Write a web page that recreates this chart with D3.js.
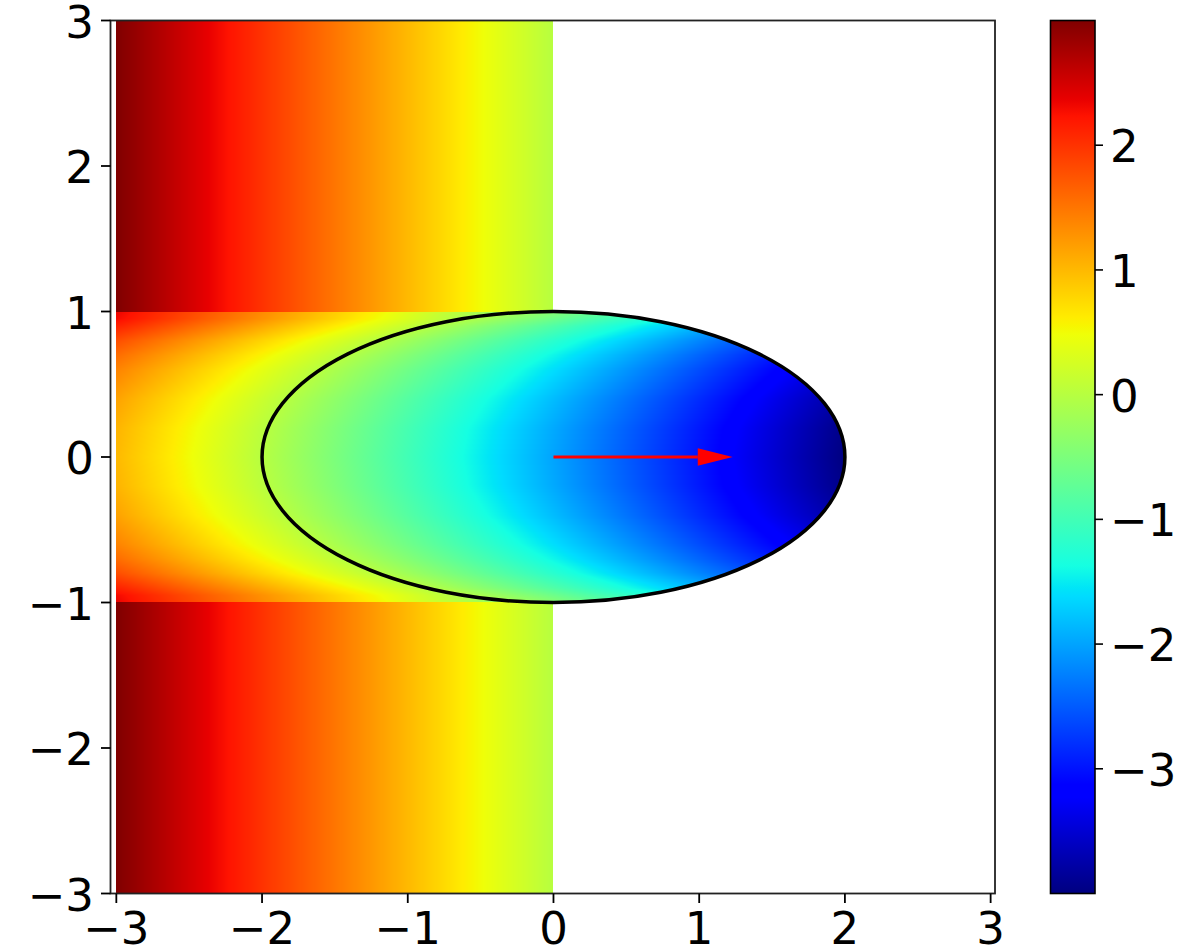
<!DOCTYPE html>
<html>
<head>
<meta charset="utf-8">
<script src="https://cdn.jsdelivr.net/npm/d3@7"></script>
<style>
  body { margin: 0; background: #fff; }
  svg { display: block; }
  text { font-family: "DejaVu Sans", sans-serif; font-size: 45px; fill: #000; }
</style>
</head>
<body>
<svg id="chart" width="1196" height="948"></svg>
<script>
// ---- data ----
const xTicks = [-3, -2, -1, 0, 1, 2, 3];
const yTicks = [-3, -2, -1, 0, 1, 2, 3];
const cbTicks = [-3, -2, -1, 0, 1, 2];
const cbDomain = [-4, 3];

// field above/below the strip (|y| > 1), sampled along x
const outerX = [-3, -2.5, -2, -1.5, -1, -0.5, 0];
const outerVals = [3, 2.5, 2, 1.5, 1, 0.5, 0];

// rows are |y| (field is mirrored about y = 0)
const rowY = [0, 0.2, 0.4, 0.6, 0.7, 0.8, 0.9, 0.95, 1];

// strip |y| < 1 left of x = 0, outside the ellipse
const stripX = [-3, -2.5, -2, -1.5, -1, -0.5, 0];
const stripVals = [
  [1.0, 0.5, 0.0, -0.5, -1.0, -1.5, -2.0],
  [1.04, 0.54, 0.04, -0.46, -0.96, -1.46, -1.96],
  [1.17, 0.67, 0.17, -0.33, -0.83, -1.33, -1.83],
  [1.4, 0.9, 0.4, -0.1, -0.6, -1.1, -1.6],
  [1.57, 1.07, 0.57, 0.07, -0.43, -0.93, -1.43],
  [1.8, 1.3, 0.8, 0.3, -0.2, -0.7, -1.2],
  [2.13, 1.63, 1.13, 0.63, 0.13, -0.37, -0.87],
  [2.3, 1.8, 1.3, 0.8, 0.3, -0.2, -0.7],
  [2.35, 1.85, 1.35, 0.85, 0.35, -0.15, -0.65]
];

// inside the ellipse
const ellX = [-2, -1.5, -1, -0.5, 0, 0.5, 1, 1.5, 2];
const ellVals = [
  [0, -0.5, -1, -1.5, -2, -2.5, -3, -3.5, -4],
  [0.04, -0.46, -0.96, -1.46, -1.96, -2.46, -2.96, -3.46, -3.96],
  [0.17, -0.33, -0.83, -1.33, -1.83, -2.33, -2.83, -3.33, -3.83],
  [0.4, -0.1, -0.6, -1.1, -1.6, -2.1, -2.6, -3.1, -3.6],
  [0.57, 0.07, -0.43, -0.93, -1.43, -1.93, -2.43, -2.93, -3.43],
  [0.8, 0.3, -0.2, -0.7, -1.2, -1.7, -2.2, -2.7, -3.2],
  [1.13, 0.63, 0.13, -0.37, -0.87, -1.37, -1.87, -2.37, -2.87],
  [1.38, 0.88, 0.38, -0.12, -0.62, -1.12, -1.62, -2.12, -2.62],
  [1.6, 1.1, 0.6, 0.1, -0.4, -0.9, -1.4, -1.9, -2.4]
];

const ellipse = { cx: 0, cy: 0, rx: 2, ry: 1 };
const arrow = { x0: 0, y0: 0, x1: 1.23, headLen: 0.24, headW: 0.12 };

// jet colormap segments
const jetR = [[0, 0], [0.35, 0], [0.66, 1], [0.89, 1], [1, 0.5]];
const jetG = [[0, 0], [0.125, 0], [0.375, 1], [0.64, 1], [0.91, 0], [1, 0]];
const jetB = [[0, 0.5], [0.11, 1], [0.34, 1], [0.65, 0], [1, 0]];

// ---- layout ----
const plot = { left: 110.5, right: 995, top: 20.5, bottom: 893.5 };
const cb = { left: 1050.5, right: 1095, top: 20.5, bottom: 893.5 };
const tickLen = 9.5;

const x = d3.scaleLinear().domain([-3.04, 3.03]).range([plot.left, plot.right]);
const y = d3.scaleLinear().domain([-3, 3]).range([plot.bottom, plot.top]);
const cbY = d3.scaleLinear().domain(cbDomain).range([cb.bottom, cb.top]);
const norm = d3.scaleLinear().domain(cbDomain).range([0, 1]).clamp(true);

const seg = pts => d3.scaleLinear().domain(pts.map(p => p[0])).range(pts.map(p => p[1])).clamp(true);
const jr = seg(jetR), jg = seg(jetG), jb = seg(jetB);
function jet(t) {
  return [jr(t) * 255, jg(t) * 255, jb(t) * 255];
}

function interp1(xs, v) {
  let i = Math.min(Math.max(d3.bisectRight(xs, v) - 1, 0), xs.length - 2);
  const t = (v - xs[i]) / (xs[i + 1] - xs[i]);
  return [i, t];
}
function bilinear(xs, grid, px, py) {
  const [i, tx] = interp1(xs, px);
  const [j, ty] = interp1(rowY, Math.abs(py));
  const a = grid[j][i] * (1 - tx) + grid[j][i + 1] * tx;
  const b = grid[j + 1][i] * (1 - tx) + grid[j + 1][i + 1] * tx;
  return a * (1 - ty) + b * ty;
}

function fieldAt(px, py) {
  const inside = ((px - ellipse.cx) / ellipse.rx) ** 2 + ((py - ellipse.cy) / ellipse.ry) ** 2 <= 1;
  if (inside) return bilinear(ellX, ellVals, px, py);
  if (px < outerX[0] || px > outerX[outerX.length - 1]) return null;
  if (Math.abs(py) >= 1) {
    const [i, t] = interp1(outerX, px);
    return outerVals[i] * (1 - t) + outerVals[i + 1] * t;
  }
  return bilinear(stripX, stripVals, px, py);
}

// ---- raster field ----
const x0 = Math.floor(plot.left), y0 = Math.floor(plot.top);
const w = Math.ceil(plot.right) - x0, h = Math.ceil(plot.bottom) - y0;
const canvas = document.createElement("canvas");
canvas.width = w; canvas.height = h;
const ctx = canvas.getContext("2d");
const img = ctx.createImageData(w, h);
for (let r = 0; r < h; r++) {
  const dy = y.invert(y0 + r + 0.5);
  for (let c = 0; c < w; c++) {
    const dx = x.invert(x0 + c + 0.5);
    const v = fieldAt(dx, dy);
    const k = (r * w + c) * 4;
    if (v === null) { img.data[k + 3] = 0; continue; }
    const [R, G, B] = jet(norm(v));
    img.data[k] = R; img.data[k + 1] = G; img.data[k + 2] = B; img.data[k + 3] = 255;
  }
}
ctx.putImageData(img, 0, 0);

const svg = d3.select("#chart");

svg.append("defs").append("clipPath").attr("id", "plotClip")
  .append("rect")
  .attr("x", plot.left).attr("y", plot.top)
  .attr("width", plot.right - plot.left).attr("height", plot.bottom - plot.top);

svg.append("image")
  .attr("x", x0).attr("y", y0)
  .attr("width", w).attr("height", h)
  .attr("href", canvas.toDataURL())
  .attr("clip-path", "url(#plotClip)");

// ellipse outline
svg.append("ellipse")
  .attr("cx", x(ellipse.cx)).attr("cy", y(ellipse.cy))
  .attr("rx", x(ellipse.rx) - x(0)).attr("ry", y(0) - y(ellipse.ry))
  .attr("fill", "none").attr("stroke", "#000").attr("stroke-width", 3.5);

// arrow
const headX = x(arrow.x1 - arrow.headLen);
svg.append("line")
  .attr("x1", x(arrow.x0)).attr("y1", y(arrow.y0))
  .attr("x2", headX).attr("y2", y(arrow.y0))
  .attr("stroke", "#ff0000").attr("stroke-width", 3);
svg.append("path")
  .attr("d", `M${headX},${y(arrow.y0 + arrow.headW / 2)}L${x(arrow.x1)},${y(arrow.y0)}L${headX},${y(arrow.y0 - arrow.headW / 2)}Z`)
  .attr("fill", "#ff0000");

// frame
svg.append("rect")
  .attr("x", plot.left).attr("y", plot.top)
  .attr("width", plot.right - plot.left).attr("height", plot.bottom - plot.top)
  .attr("fill", "none").attr("stroke", "#222").attr("stroke-width", 1.8);

const fmt = d => d < 0 ? "\u2212" + Math.abs(d) : String(d);

// x ticks
const gx = svg.append("g");
gx.selectAll("line").data(xTicks).join("line")
  .attr("x1", d => x(d)).attr("x2", d => x(d))
  .attr("y1", plot.bottom).attr("y2", plot.bottom + tickLen)
  .attr("stroke", "#000").attr("stroke-width", 1.8);
gx.selectAll("text").data(xTicks).join("text")
  .attr("x", d => x(d)).attr("y", 944)
  .attr("text-anchor", "middle")
  .text(fmt);

// y ticks
const gy = svg.append("g");
gy.selectAll("line").data(yTicks).join("line")
  .attr("x1", plot.left - tickLen).attr("x2", plot.left)
  .attr("y1", d => y(d)).attr("y2", d => y(d))
  .attr("stroke", "#000").attr("stroke-width", 1.8);
gy.selectAll("text").data(yTicks).join("text")
  .attr("x", 94).attr("y", d => y(d) + 17)
  .attr("text-anchor", "end")
  .text(fmt);

// colorbar
const grad = svg.select("defs").append("linearGradient")
  .attr("id", "jetGrad").attr("x1", 0).attr("y1", 1).attr("x2", 0).attr("y2", 0);
const stops = Array.from(new Set([...jetR, ...jetG, ...jetB].map(p => p[0]))).sort((a, b) => a - b);
grad.selectAll("stop").data(stops).join("stop")
  .attr("offset", d => d)
  .attr("stop-color", d => { const [R, G, B] = jet(d); return d3.rgb(R, G, B).toString(); });

svg.append("rect")
  .attr("x", cb.left).attr("y", cb.top)
  .attr("width", cb.right - cb.left).attr("height", cb.bottom - cb.top)
  .attr("fill", "url(#jetGrad)")
  .attr("stroke", "#000").attr("stroke-width", 1.6);

const gc = svg.append("g");
gc.selectAll("line").data(cbTicks).join("line")
  .attr("x1", cb.right).attr("x2", cb.right + 8)
  .attr("y1", d => cbY(d)).attr("y2", d => cbY(d))
  .attr("stroke", "#000").attr("stroke-width", 1.6);
gc.selectAll("text").data(cbTicks).join("text")
  .attr("x", 1110).attr("y", d => cbY(d) + 17)
  .attr("text-anchor", "start")
  .text(fmt);
</script>
</body>
</html>
